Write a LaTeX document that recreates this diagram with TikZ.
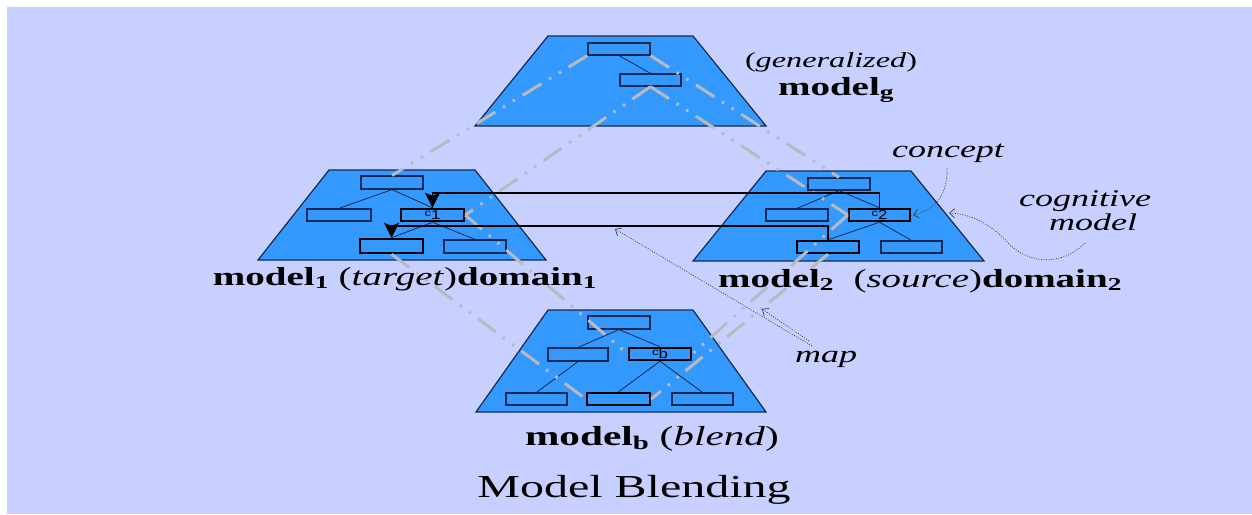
\documentclass[tikz,border=0pt]{standalone}
\usepackage{fontspec}
\usepackage{graphicx}
\setmainfont{Liberation Serif}[FakeStretch=1.5]
\newfontfamily\boxfont{Liberation Sans}[FakeStretch=1.3]
\usetikzlibrary{arrows.meta,calc}
\definecolor{bg}{RGB}{200,208,255}
\definecolor{trap}{RGB}{51,153,255}
\definecolor{edge}{RGB}{25,40,80}
\definecolor{gline}{RGB}{185,185,192}
\definecolor{notec}{RGB}{60,60,75}
\newcommand\clab[1]{\raisebox{3pt}{\fontsize{10}{10}\selectfont c}\fontsize{13}{13}\selectfont #1}
\tikzset{
  trapz/.style={fill=trap, draw=edge, line width=1.2pt, line join=miter},
  cbox/.style={draw=edge, line width=1.2pt, minimum width=62pt, minimum height=12pt, inner sep=0pt, fill=trap, font=\boxfont},
  tbox/.style={cbox, draw=black, line width=2.4pt},
  tree/.style={draw=edge, line width=0.8pt},
  grayln/.style={draw=gline, line width=3pt, dash pattern=on 22pt off 9pt on 2.5pt off 9pt on 2.5pt off 9pt},
  conn/.style={draw=black, line width=1.5pt, -{Stealth[length=15pt,width=15pt,inset=3pt]}},
  notearr/.style={draw=notec, line width=0.7pt, dash pattern=on 1pt off 1.5pt, -{Straight Barb[length=5pt,width=9pt]}},
  lab/.style={anchor=base, inner sep=0pt, font=\fontsize{26}{30}\selectfont},
  ann/.style={anchor=base, inner sep=0pt, font=\fontsize{24}{28}\selectfont\itshape},
}
\begin{document}
\begin{tikzpicture}[x=1pt,y=-1pt]
\fill[white] (0,0) rectangle (1252,514);
\fill[bg] (7,7) rectangle (1252,514);
\useasboundingbox (0,0) rectangle (1252,514);

% trapezoids
\path[trapz] (548,36) -- (693,36) -- (766,126) -- (475,126) -- cycle;
\path[trapz] (329,170) -- (475,170) -- (546,260) -- (258,260) -- cycle;
\path[trapz] (766,171) -- (911,171) -- (984,261) -- (693,261) -- cycle;
\path[trapz] (548,310) -- (693,310) -- (766,412) -- (476,412) -- cycle;

% boxes: generalized
\node[cbox] (gb1) at (619,49) {};
\node[cbox, minimum width=61pt] (gb2) at (650.5,80) {};
% boxes: model 1
\node[cbox, minimum height=13pt] (ltop) at (392,182.5) {};
\node[cbox, minimum width=64pt] (lleft) at (339,215) {};
\node[tbox, minimum width=63pt] (c1) at (432.5,215) {\clab{1}};
\node[tbox, minimum width=63pt, minimum height=14pt] (lbl) at (391.5,246) {};
\node[cbox, minimum height=13pt] (lbr) at (475,246.5) {};
% boxes: model 2
\node[cbox] (rtop) at (839,184) {};
\node[cbox] (rleft) at (797,215) {};
\node[tbox, minimum width=61pt] (c2) at (879.5,215) {\clab{2}};
\node[tbox] (rbl) at (828,247) {};
\node[cbox, minimum width=61pt] (rbr) at (911.5,247) {};
% boxes: blend
\node[cbox, minimum height=13pt] (btop) at (619,322.5) {};
\node[cbox, minimum width=60pt, minimum height=13pt] (bleft) at (578,354.5) {};
\node[tbox] (cb) at (660,354) {\clab{b}};
\node[cbox, minimum width=61pt] (bbl) at (536.5,399) {};
\node[tbox, minimum width=63pt] (bbm) at (618.5,399) {};
\node[cbox, minimum width=61pt] (bbr) at (702.5,399) {};

% tree lines
\draw[tree] (gb1.south) -- (gb2.north);
\draw[tree] (ltop.south) -- (lleft.north);
\draw[tree] (ltop.south) -- (c1.north);
\draw[tree] (c1.south) -- (lbl.north);
\draw[tree] (c1.south) -- (lbr.north);
\draw[tree] (rtop.south) -- (rleft.north);
\draw[tree] (rtop.south) -- (c2.north);
\draw[tree] (c2.south) -- (rbl.north);
\draw[tree] (c2.south) -- (rbr.north);
\draw[tree] (btop.south) -- (bleft.north);
\draw[tree] (btop.south) -- (cb.north);
\draw[tree] (bleft.south) -- (bbl.north);
\draw[tree] (cb.south) -- (bbm.north);
\draw[tree] (cb.south) -- (bbr.north);

% gray correspondence lines
\draw[grayln] (gb1.south west) -- (ltop.north);
\draw[grayln] (gb1.south east) -- (rtop.north);
\draw[grayln] (gb2.south) -- (c1.east);
\draw[grayln] (gb2.south) -- (c2.west);
\draw[grayln] (lbl.south) -- (bbm.west);
\draw[grayln] (c1.east) -- (cb.west);
\draw[grayln] (c2.west) -- (cb.east);
\draw[grayln] (rbl.south) -- (bbm.east);

% mapping connectors
\draw[conn] (c2.north) -- ++(0,-15) -| (c1.north);
\draw[conn] (rbl.north) -- ++(0,-14) -| (lbl.north);

% labels
\node[lab, font=\fontsize{21.5}{25}\selectfont] (lgen) at (831,67) {(\textit{generalized})};
\node[lab] (lg) at (836,95) {\textbf{model\textsubscript{g}}};
\node[lab] (l1) at (405,285) {\textbf{model\textsubscript{1}} (\textit{target})\textbf{domain\textsubscript{1}}};
\node[lab] (l2) at (920,287) {\textbf{model\textsubscript{2}}\ \ (\textit{source})\textbf{domain\textsubscript{2}}};
\node[lab, font=\fontsize{27.5}{31}\selectfont] (lb) at (652,445) {\textbf{model\textsubscript{b}} (\textit{blend})};
\node[anchor=base, inner sep=0pt, font=\fontsize{32}{36}\selectfont] (title) at (634,497) {Model Blending};

% annotations
\node[ann] (concept) at (948,157) {concept};
\node[ann] (cog1) at (1085,206) {cognitive};
\node[ann] (cog2) at (1093,230) {model};
\node[ann] (map) at (826,362) {map};
\coordinate (mapA) at (615,229);
\coordinate (mapB) at (762,309);
\coordinate (trapR) at (949,213);
\coordinate (cogS) at (1085,243);
\draw[notearr] (947,168) .. controls (948,195) and (935,210) .. ([xshift=2pt]c2.east);
\draw[notearr] (cogS) .. controls (1060,268) and (1028,262) .. (1010,245) .. controls (995,228) and (975,214) .. (trapR);
\draw[notearr] (812,346) -- (mapA);
\draw[notearr] (809,341) -- (mapB);
\end{tikzpicture}
\end{document}
